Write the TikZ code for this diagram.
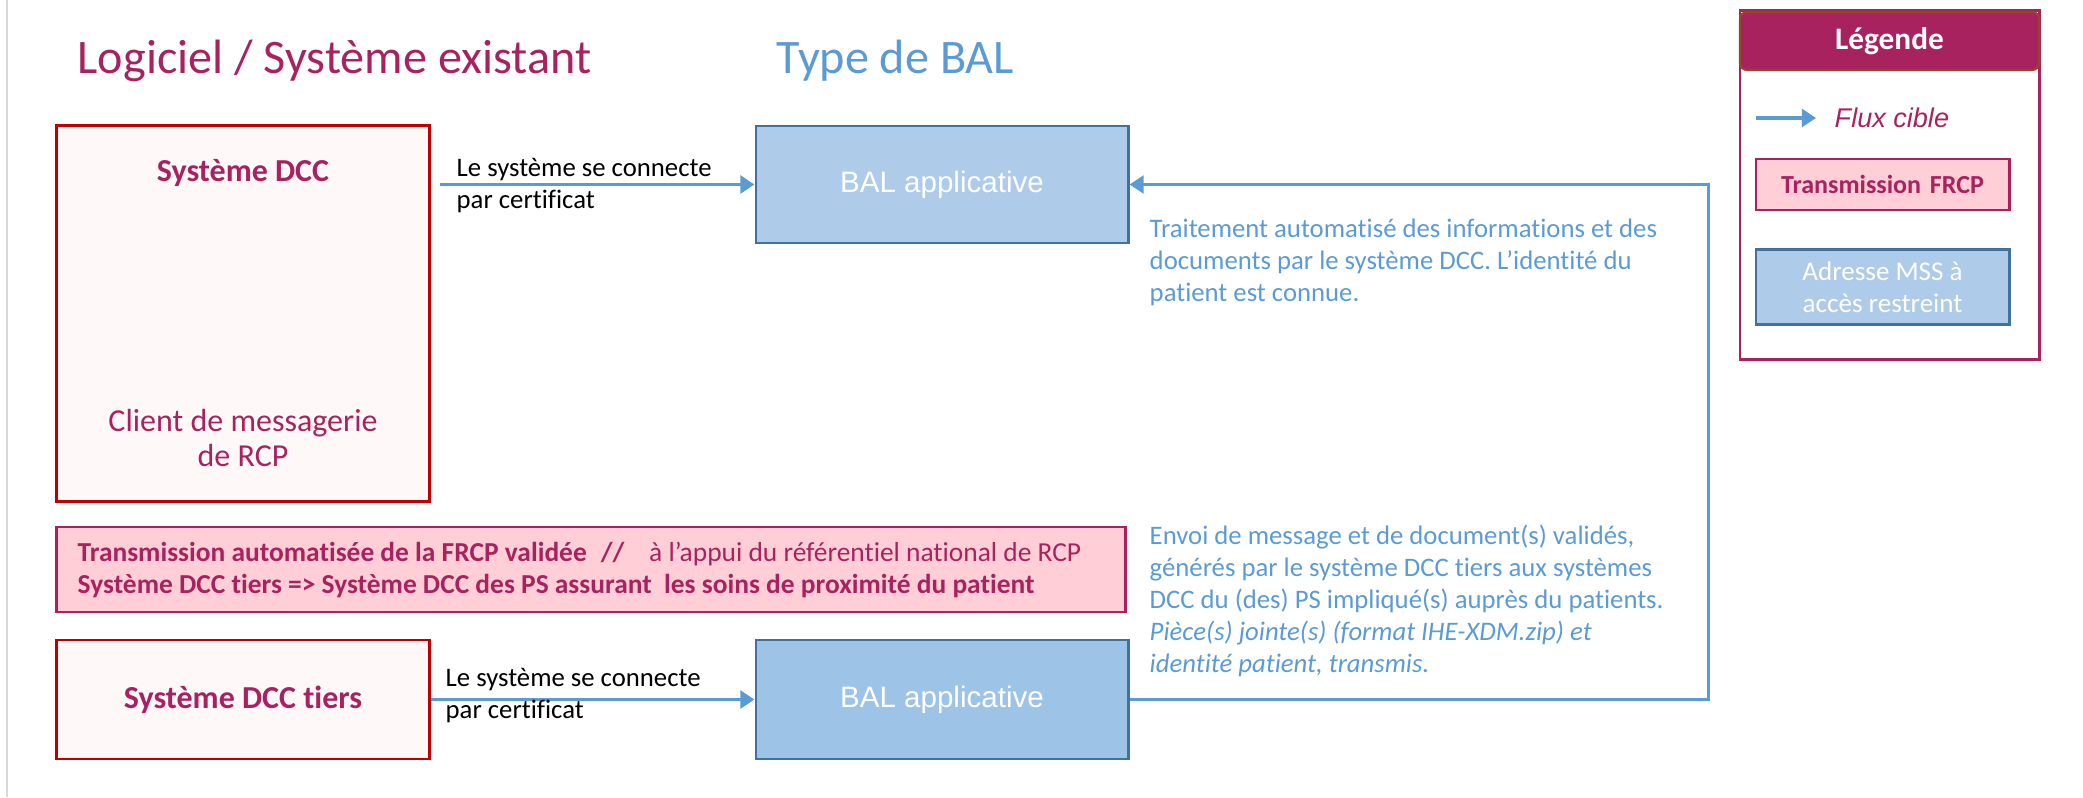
\documentclass[tikz,border=0pt]{standalone}
\usepackage{fontspec}
\setmainfont[Ligatures=NoCommon]{Carlito}
\newfontfamily\arialfont{Liberation Sans}
\usetikzlibrary{positioning, arrows.meta}

\definecolor{rcpMagenta}{RGB}{168,34,96}
\definecolor{rcpRouge}{RGB}{192,0,0}
\definecolor{rcpFond}{RGB}{255,248,248}
\definecolor{rcpRose}{RGB}{255,206,214}
\definecolor{balBleu}{RGB}{174,203,234}
\definecolor{balBleuB}{RGB}{157,195,230}
\definecolor{balBord}{RGB}{65,113,156}
\definecolor{fluxBleu}{RGB}{91,155,213}
\definecolor{legBrun}{RGB}{150,70,40}

\begin{document}
\begin{tikzpicture}[x=0.01cm,y=-0.01cm,
  sysbox/.style={draw=rcpRouge, fill=rcpFond, line width=0.8pt, minimum width=3.72cm},
  boxtext/.style={inner sep=0pt, text=rcpMagenta, align=center, font=\fontsize{9.1}{10.2}\selectfont},
  balbox/.style={draw=balBord, fill=balBleu, line width=0.8pt, minimum width=3.72cm, text=white, font=\arialfont\fontsize{8.4}{10}\selectfont},
  flux/.style={draw=fluxBleu, line width=1.1pt, -{Triangle[length=4pt,width=5pt]}},
  lienlabel/.style={align=left, anchor=west, inner sep=0pt, font=\fontsize{7.6}{9.1}\selectfont},
  notebleue/.style={align=left, anchor=west, inner sep=0pt, text=fluxBleu, font=\fontsize{7.6}{9.1}\selectfont},
  titre/.style={anchor=base west, inner sep=0pt, font=\fontsize{13.7}{16}\selectfont}]

\useasboundingbox (0,0) rectangle (2083,797);
\draw[black!15, line width=0.6pt] (7,0) -- (7,797);

% Titles
\node[titre, text=rcpMagenta] (titreLogiciel) at (77,73) {Logiciel / Système existant};
\node[titre, text=fluxBleu] (titreBAL) at (776,73) {Type de BAL};

% Systems
\node[sysbox, minimum height=3.75cm] (sysDCC) at (243,313.5) {};
\node[boxtext, font=\bfseries\fontsize{9.1}{10.2}\selectfont] (nomDCC) at (243,173) {Système DCC};
\node[boxtext] (clientRCP) at (243,438) {Client de messagerie\\de RCP};
\node[sysbox, minimum height=1.19cm, text=rcpMagenta, font=\bfseries\fontsize{9.1}{10.2}\selectfont] (sysTiers) at (243,699.5) {Système DCC tiers};

% BAL
\node[balbox, minimum height=1.17cm] (balDCC) at (942,184.5) {BAL applicative};
\node[balbox, fill=balBleuB, minimum height=1.19cm] (balTiers) at (942,699.5) {BAL applicative};

% FRCP band
\node[draw=rcpMagenta, fill=rcpRose, line width=0.8pt, minimum width=10.68cm, minimum height=0.85cm] (bandeau) at (591,569.5) {};
\node[anchor=west, inner sep=0pt, align=left, text=rcpMagenta, font=\fontsize{7.8}{9.1}\selectfont] (bandeauTexte) at (77,570)
  {\textbf{Transmission automatisée de la FRCP validée}\hspace{4pt}\textbf{//}\hspace{7pt}à l’appui du référentiel national de RCP\\
   \textbf{Système DCC tiers => Système DCC des PS assurant\ \ les soins de proximité du patient}};

% Flows
\draw[flux, shorten <=0.09cm] (sysDCC.east |- balDCC.west) -- (balDCC.west);
\draw[flux] (sysTiers) -- (balTiers);
\draw[flux] (balTiers.east) -- ++(579,0) |- (balDCC.east);

\node[lienlabel] (lienDCC) at (456,186) {Le système se connecte\\par certificat};
\node[lienlabel] (lienTiers) at (445,696) {Le système se connecte\\par certificat};

% Notes
\node[notebleue] (noteDCC) at (1149,262) {Traitement automatisé des informations et des\\
  documents par le système DCC. L’identité du\\
  patient est connue.};
\node[notebleue] (noteTiers) at (1149,600.5) {Envoi de message et de document(s) validés,\\
  générés par le système DCC tiers aux systèmes\\
  DCC du (des) PS impliqué(s) auprès du patients.\\
  \textit{Pièce(s) jointe(s) (format IHE-XDM.zip) et}\\
  \textit{identité patient, transmis.}};

% Legend
\node[draw=rcpMagenta, line width=0.8pt, minimum width=2.99cm, minimum height=3.48cm] (legende) at (1889.5,185) {};
\node[fill=rcpMagenta, draw=legBrun, line width=0.6pt, rounded corners=2pt, minimum width=2.99cm, minimum height=0.58cm,
      text=white, font=\bfseries\fontsize{8.9}{10}\selectfont] (legTete) at (1889.5,41) {Légende};
\coordinate (fluxA) at (1756,118);
\coordinate (fluxB) at (1816,118);
\draw[flux] (fluxA) -- (fluxB);
\node[anchor=west, inner sep=0pt, text=rcpMagenta, font=\arialfont\itshape\fontsize{7.7}{9}\selectfont] (fluxTexte) at (1834,118) {Flux cible};
\node[draw=rcpMagenta, fill=rcpRose, line width=0.8pt, minimum width=2.53cm, minimum height=0.51cm,
      text=rcpMagenta, font=\bfseries\fontsize{7.4}{9}\selectfont] (legFRCP) at (1882.5,184.5) {Transmission\hspace{2.5pt}FRCP};
\node[draw=balBord, fill=balBleu, line width=0.8pt, minimum width=2.53cm, minimum height=0.74cm, align=center,
      text=white, font=\fontsize{7.7}{9.1}\selectfont] (legMSS) at (1882.5,287) {Adresse MSS à\\accès restreint};

\end{tikzpicture}
\end{document}
